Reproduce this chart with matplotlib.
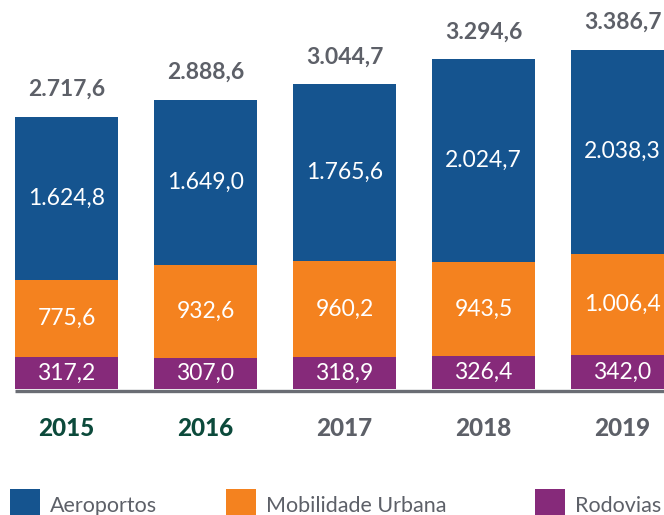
import matplotlib
matplotlib.use("Agg")
import matplotlib.pyplot as plt
from matplotlib.patches import Rectangle

years = ["2015", "2016", "2017", "2018", "2019"]
rodovias = [317.2, 307.0, 318.9, 326.4, 342.0]
mobilidade = [775.6, 932.6, 960.2, 943.5, 1006.4]
aeroportos = [1624.8, 1649.0, 1765.6, 2024.7, 2038.3]
highlight_years = ["2015", "2016"]

series = [
    ("Rodovias", rodovias, "#862a7a"),
    ("Mobilidade Urbana", mobilidade, "#f4821f"),
    ("Aeroportos", aeroportos, "#15548f"),
]
legend_order = ["Aeroportos", "Mobilidade Urbana", "Rodovias"]

GRAY = "#5d6068"
GREEN = "#0c4a3b"
FONT = "Lato"


def fmt(v):
    s = f"{v:,.1f}"
    return s.replace(",", "X").replace(".", ",").replace("X", ".")


W, H = 664, 515
fig = plt.figure(figsize=(W / 100, H / 100), dpi=100)
base_px = 389
ax = fig.add_axes([0, (H - base_px) / H, 1, base_px / H])
ax.set_axis_off()

step = 139.0
first_center = 66.5
ax.set_xlim(-first_center / step, (W - first_center) / step)
ax.set_ylim(0, base_px / 0.1002)

x = list(range(len(years)))
width = 103 / step
bottom = [0.0] * len(years)
for name, vals, color in series:
    ax.bar(x, vals, width=width, bottom=bottom, color=color, linewidth=0)
    for i, v in enumerate(vals):
        ax.text(x[i], bottom[i] + v / 2, fmt(v), ha="center", va="center",
                color="white", fontsize=16.5, family=FONT)
    bottom = [b + v for b, v in zip(bottom, vals)]

# totals above each bar
for i, t in enumerate(bottom):
    ax.annotate(fmt(t), (x[i], t), xytext=(0, 19.5), textcoords="offset points",
                ha="center", va="center", color=GRAY, fontsize=16.5,
                family=FONT, fontweight="bold")

# baseline
ax.plot([(15 - first_center) / step, (W - first_center) / step], [-16, -16],
        color="#6a6d74", linewidth=2.4, solid_capstyle="butt", clip_on=False)

# year labels
for i, y in enumerate(years):
    ax.annotate(y, (x[i], 0), xytext=(0, -28.5), textcoords="offset points",
                ha="center", va="center", fontsize=17.5, fontweight=900,
                family=FONT, color=GREEN if y in highlight_years else GRAY)

# legend
colors = {n: c for n, _, c in series}
legend_pos = {"Aeroportos": 10, "Mobilidade Urbana": 226, "Rodovias": 535}
for name in legend_order:
    lx = legend_pos[name]
    fig.patches.append(Rectangle((lx / W, 0), 30 / W, 26 / H,
                                 transform=fig.transFigure, color=colors[name],
                                 linewidth=0))
    fig.text((lx + 40) / W, (H - 512) / H, name, ha="left", va="baseline",
             fontsize=15.5, family=FONT, color=GRAY)

fig.savefig("out.png", dpi=100)
